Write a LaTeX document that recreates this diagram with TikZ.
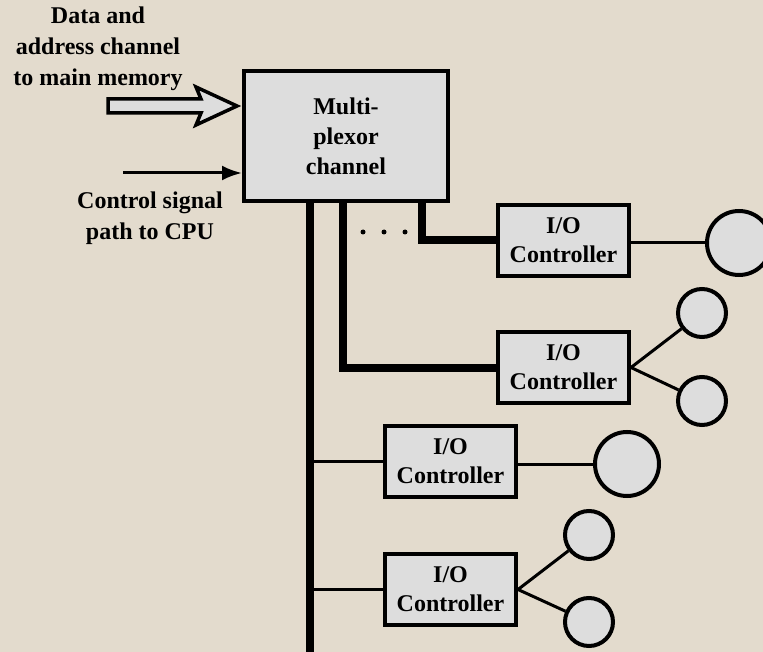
\documentclass[tikz,border=0pt]{standalone}
\usepackage{fontspec}
\setmainfont{Liberation Serif}
\usetikzlibrary{arrows.meta}
\definecolor{bgc}{RGB}{227,219,205}
\definecolor{boxc}{RGB}{221,221,221}
\begin{document}
\begin{tikzpicture}[x=1pt,y=-1pt,
  lbl/.style={font=\bfseries\fontsize{24}{31}\selectfont, align=center, inner sep=0pt},
  muxbox/.style={draw, line width=4pt, fill=boxc, minimum width=204pt, minimum height=130pt, inner sep=0pt, font=\bfseries\fontsize{24}{30}\selectfont, align=center},
  ctrl/.style={draw, line width=4pt, fill=boxc, minimum width=131pt, minimum height=71pt, inner sep=0pt, font=\bfseries\fontsize{24}{29}\selectfont, align=center},
  bigdev/.style={circle, draw, line width=4pt, fill=boxc, minimum size=64pt, inner sep=0pt},
  smalldev/.style={circle, draw, line width=4pt, fill=boxc, minimum size=48pt, inner sep=0pt},
  bus/.style={line width=8pt},
  link/.style={line width=3pt},
  dotmark/.style={fill, circle, inner sep=0pt, minimum size=5pt}]
\useasboundingbox (0,0) rectangle (763,652);
\fill[bgc] (0,0) rectangle (763,652);
\clip (0,0) rectangle (763,652);

% nodes
\node[muxbox] (mux) at (346,136) {Multi-\\plexor\\channel};
\node[ctrl] (c1) at (563.5,240.5) {I/O\\Controller};
\node[ctrl] (c2) at (563.5,367.5) {I/O\\Controller};
\node[ctrl] (c3) at (450.5,461.5) {I/O\\Controller};
\node[ctrl] (c4) at (450.5,589.5) {I/O\\Controller};
\node[bigdev] (d1) at (739,243) {};
\node[smalldev] (d2a) at (702,313) {};
\node[smalldev] (d2b) at (702,401) {};
\node[bigdev] (d3) at (627,464) {};
\node[smalldev] (d4a) at (589,535) {};
\node[smalldev] (d4b) at (589,622) {};

\node[lbl] (datalbl) at (98,48.5) {Data and\\address channel\\to main memory};
\node[lbl] (ctllbl) at (150,218) {Control signal\\path to CPU};

\node[dotmark] (dt1) at (363,232) {};
\node[dotmark] (dt2) at (384,232) {};
\node[dotmark] (dt3) at (405,232) {};

% coordinates
\coordinate (busend) at (310,660);
\coordinate (b2) at (343,0);
\coordinate (b3) at (422,0);
\coordinate (ctlstart) at (123,173);

% buses
\draw[bus] (mux.south -| busend) -- (busend);
\draw[bus] (mux.south -| b2) |- (c2.west);
\draw[bus] (mux.south -| b3) |- (c1.west);
\draw[link] (c3.west -| busend) -- (c3.west);
\draw[link] (c4.west -| busend) -- (c4.west);

% device links
\draw[link] (c1.east |- d1) -- (d1.west);
\draw[link] (c2.east) -- (d2a);
\draw[link] (c2.east) -- (d2b);
\draw[link] (c3.east |- d3) -- (d3.west);
\draw[link] (c4.east) -- (d4a);
\draw[link] (c4.east) -- (d4b);

% data channel arrow
\draw[line width=3.5pt, fill=boxc, line join=miter]
  (108,99) -- (201,99) -- (196,87) -- (237,106) -- (196,125) -- (201,113) -- (108,113) -- cycle;

% control arrow
\draw[line width=3pt, -{Latex[length=20pt,width=15pt]}] (ctlstart) -- (ctlstart -| mux.west);
\end{tikzpicture}
\end{document}
